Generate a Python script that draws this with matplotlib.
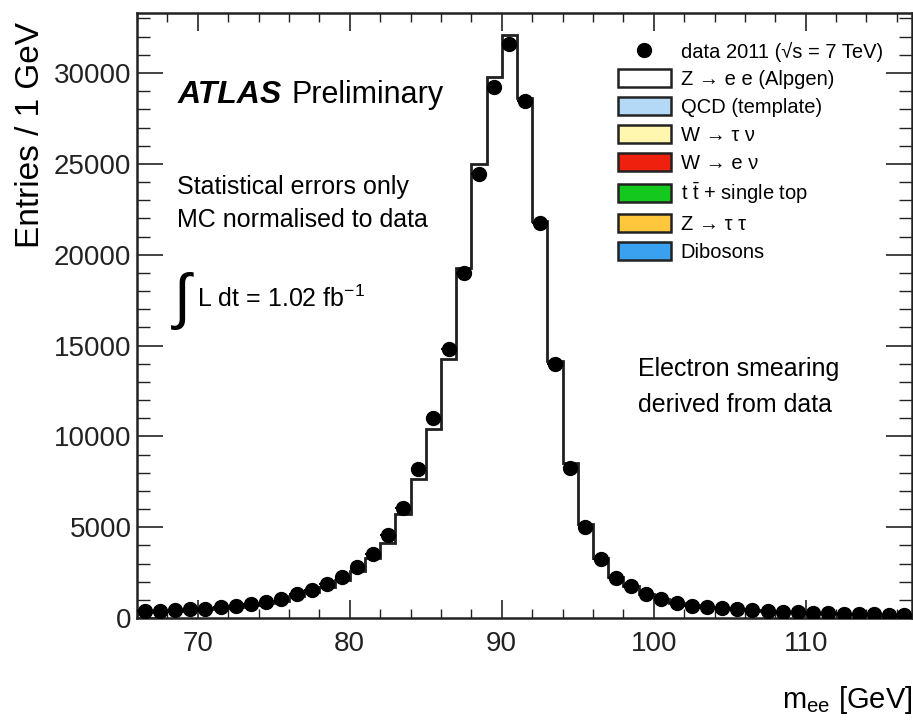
import numpy as np
import matplotlib
matplotlib.use("Agg")
import matplotlib.pyplot as plt
from matplotlib.patches import Patch
from matplotlib.lines import Line2D

plt.rcParams["font.family"] = ["Liberation Sans", "DejaVu Sans"]
plt.rcParams["mathtext.fontset"] = "custom"
plt.rcParams["mathtext.rm"] = "Liberation Sans"
plt.rcParams["mathtext.it"] = "Liberation Sans:italic"
plt.rcParams["mathtext.bf"] = "Liberation Sans:bold"

# bin edges 66..117 GeV, 1 GeV wide
bin_lo = 66
bin_hi = 117

# data 2011, entries per bin
data_counts = [370, 400, 440, 480, 530, 600, 690, 770, 880, 1050,
               1320, 1540, 1870, 2260, 2810, 3520, 4570, 6060, 8200, 11010,
               14810, 19000, 24450, 29240, 31600, 28470, 21750, 13990, 8260, 5010,
               3250, 2200, 1760, 1320, 1050, 830, 690, 610, 540, 480,
               430, 390, 350, 320, 300, 270, 250, 230, 220, 200, 190]

# Z -> ee MC (Alpgen), normalised to data
mc_counts = [340, 370, 410, 450, 500, 560, 640, 720, 820, 970,
             1200, 1420, 1720, 2080, 2620, 3300, 4130, 5730, 7650, 10410,
             14260, 19270, 25000, 29760, 32100, 28640, 21860, 14150, 8540, 5180,
             3330, 2250, 1780, 1340, 1060, 840, 700, 610, 540, 480,
             430, 390, 350, 320, 300, 270, 250, 230, 220, 200, 190]

legend_labels = ["Z \u2192 e e (Alpgen)", "QCD (template)", "W \u2192 \u03c4 \u03bd",
                 "W \u2192 e \u03bd", r"t $\bar{\mathrm{t}}$ + single top",
                 "Z \u2192 \u03c4 \u03c4", "Dibosons"]
legend_colors = ["white", "#b3d9f7", "#fff7b0", "#f0200f", "#14c81e", "#ffc83c", "#3aa0f0"]

edges = np.arange(bin_lo, bin_hi + 1)
centers = edges[:-1] + 0.5
data = np.array(data_counts, dtype=float)
mc = np.array(mc_counts, dtype=float)

fig = plt.figure(figsize=(9.13, 7.23), dpi=100)
ax = fig.add_axes([0.150, 0.145, 0.849, 0.837])

ax.stairs(mc, edges, fill=True, facecolor="white", edgecolor="none")
ax.stairs(mc, edges, color="#202020", lw=2.0)
ax.errorbar(centers, data, yerr=np.sqrt(data), xerr=0.5, fmt="o", color="black",
            ms=10, elinewidth=1.5, capsize=0, zorder=5)

ax.set_xlim(bin_lo, bin_hi)
ax.set_ylim(0, 33300)
ax.set_xticks([70, 80, 90, 100, 110])
ax.set_xticks(np.arange(66, 118, 2), minor=True)
ax.set_yticks(np.arange(0, 30001, 5000))
ax.set_yticks(np.arange(0, 33001, 1000), minor=True)
ax.tick_params(axis="both", which="both", direction="in", top=True, right=True,
               labelsize=20, colors="#222222")
ax.tick_params(axis="x", which="major", length=13, width=1.2, pad=9)
ax.tick_params(axis="x", which="minor", length=6.5, width=1.0)
ax.tick_params(axis="y", which="major", length=19, width=1.2, pad=4)
ax.tick_params(axis="y", which="minor", length=9.5, width=1.0)
for s in ax.spines.values():
    s.set_linewidth(1.8)
    s.set_color("#222222")

ax.set_ylabel("Entries / 1 GeV", fontsize=24, loc="top")
ax.yaxis.set_label_coords(-0.117, 0.985)
ax.set_xlabel(r"m$_{\mathrm{ee}}$ [GeV]", fontsize=21, loc="right", labelpad=20)

tx = ax.transAxes
ax.text(0.053, 0.864, "ATLAS", fontsize=23, fontweight="bold", fontstyle="italic",
        transform=tx, va="center")
ax.text(0.200, 0.864, "Preliminary", fontsize=22, transform=tx, va="center")
ax.text(0.052, 0.712, "Statistical errors only", fontsize=18, transform=tx, va="center")
ax.text(0.052, 0.658, "MC normalised to data", fontsize=18, transform=tx, va="center")
ax.text(0.044, 0.524, r"$\int$", fontsize=44, transform=tx, va="center")
ax.text(0.077, 0.528, r"L dt = 1.02 fb$^{-1}$", fontsize=18, transform=tx, va="center")
ax.text(0.646, 0.412, "Electron smearing", fontsize=18, transform=tx, va="center")
ax.text(0.646, 0.352, "derived from data", fontsize=18, transform=tx, va="center")

handles = [Line2D([], [], marker="o", ls="none", color="black", ms=10)]
handles += [Patch(facecolor=c, edgecolor="#222222", lw=1.8) for c in legend_colors]
labels = ["data 2011 (\u221as = 7 TeV)"] + legend_labels
ax.legend(handles, labels, loc="upper left", bbox_to_anchor=(0.621, 0.953),
          frameon=False, fontsize=14.5, borderpad=0, borderaxespad=0,
          handlelength=2.6, handleheight=1.0, handletextpad=0.5, labelspacing=0.39)

fig.savefig("out.png", dpi=100)
